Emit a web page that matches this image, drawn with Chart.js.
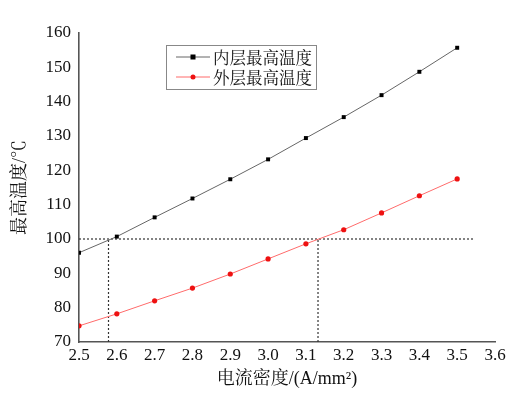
<!DOCTYPE html>
<html>
<head>
<meta charset="utf-8">
<script src="https://cdn.jsdelivr.net/npm/chart.js@4"></script>
<style>
  body { margin: 0; background: #fff; }
  #wrap { width: 520px; height: 394px; }
</style>
</head>
<body>
<div id="wrap"><canvas id="chart" width="520" height="394"></canvas></div>
<script>
// 电流密度 (A/mm2)
const currentDensity = [2.5, 2.6, 2.7, 2.8, 2.9, 3.0, 3.1, 3.2, 3.3, 3.4, 3.5];
// 内层 / 外层 最高温度 (℃)
const innerTemp = [96.0, 100.7, 106.3, 111.8, 117.4, 123.2, 129.4, 135.5, 141.9, 148.7, 155.7];
const outerTemp = [74.7, 78.2, 82.0, 85.7, 89.8, 94.2, 98.6, 102.7, 107.6, 112.6, 117.5];
const seriesNames = ['内层最高温度', '外层最高温度'];

// 100℃ 参考线及交点
const limitTemp = 100;
const limitEndX = 3.545;
const crossX = [2.578, 3.132];

const serif = "'Liberation Serif'";
const cjk = "'Liberation Serif', 'Noto Serif CJK SC'";
Chart.defaults.font.family = cjk;

function pts(ys) {
    return currentDensity.map((x, i) => ({ x: x, y: ys[i] }));
}

const dotted = { borderColor: '#333', borderWidth: 1.2, borderDash: [2, 2], pointRadius: 0, fill: false };

const datasets = [
    {
        label: seriesNames[0], data: pts(innerTemp),
        borderColor: '#666', borderWidth: 1, backgroundColor: '#000',
        pointStyle: 'rect', pointRadius: 2.8, pointBorderWidth: 0
    },
    {
        label: seriesNames[1], data: pts(outerTemp),
        borderColor: '#ff6b6b', borderWidth: 1, backgroundColor: '#ee1111',
        pointStyle: 'circle', pointRadius: 2.6, pointBorderWidth: 0
    },
    Object.assign({ label: 'limit', data: [{ x: currentDensity[0], y: limitTemp }, { x: limitEndX, y: limitTemp }] }, dotted)
];
crossX.forEach(cx => {
    datasets.push(Object.assign({ label: 'cross', data: [{ x: cx, y: 70 }, { x: cx, y: limitTemp }] }, dotted));
});

// 图例框
const legendBox = {
    id: 'legendBox',
    afterDraw(chart) {
        const ctx = chart.ctx;
        ctx.save();
        ctx.strokeStyle = '#888';
        ctx.lineWidth = 1;
        ctx.strokeRect(166.5, 45.5, 150, 44);
        [0, 1].forEach(i => {
            const ds = chart.data.datasets[i];
            const y = 57 + i * 20;
            ctx.strokeStyle = ds.borderColor;
            ctx.lineWidth = 1;
            ctx.beginPath();
            ctx.moveTo(176, y);
            ctx.lineTo(210, y);
            ctx.stroke();
            ctx.fillStyle = ds.backgroundColor;
            if (i === 0) {
                ctx.fillRect(190.5, y - 2.5, 5, 5);
            } else {
                ctx.beginPath();
                ctx.arc(193, y, 2.5, 0, Math.PI * 2);
                ctx.fill();
            }
            ctx.fillStyle = '#111';
            ctx.font = "16.5px 'Noto Serif CJK SC'";
            ctx.textBaseline = 'middle';
            ctx.fillText(ds.label, 213, y + 1);
        });
        ctx.restore();
    }
};

new Chart(document.getElementById('chart'), {
    type: 'line',
    data: { datasets: datasets },
    options: {
        responsive: false,
        animation: false,
        layout: { padding: { top: 33, right: 25, left: 0, bottom: 0 } },
        plugins: { legend: { display: false }, tooltip: { enabled: false } },
        scales: {
            x: {
                type: 'linear', min: 2.5, max: 3.6,
                grid: { display: false, drawTicks: false },
                border: { display: true, color: '#555', width: 1.6 },
                ticks: {
                    stepSize: 0.1, padding: 3, color: '#111',
                    font: { family: serif, size: 17 },
                    callback: v => v.toFixed(1)
                },
                title: {
                    display: true, text: '电流密度/(A/mm²)', color: '#111',
                    font: { family: cjk, size: 18 }, padding: { top: 0, bottom: 4 }
                },
                afterFit: s => { s.height = 52; }
            },
            y: {
                min: 70, max: 160,
                grid: { display: false, drawTicks: false },
                border: { display: true, color: '#555', width: 1.6 },
                ticks: {
                    stepSize: 10, padding: 8, color: '#111',
                    font: { family: serif, size: 17 }
                },
                title: {
                    display: true, text: '最高温度/℃', color: '#111',
                    font: { family: cjk, size: 18 }, padding: { top: 9, bottom: 0 }
                },
                afterFit: s => { s.width = 79; }
            }
        }
    },
    plugins: [legendBox]
});
</script>
</body>
</html>
